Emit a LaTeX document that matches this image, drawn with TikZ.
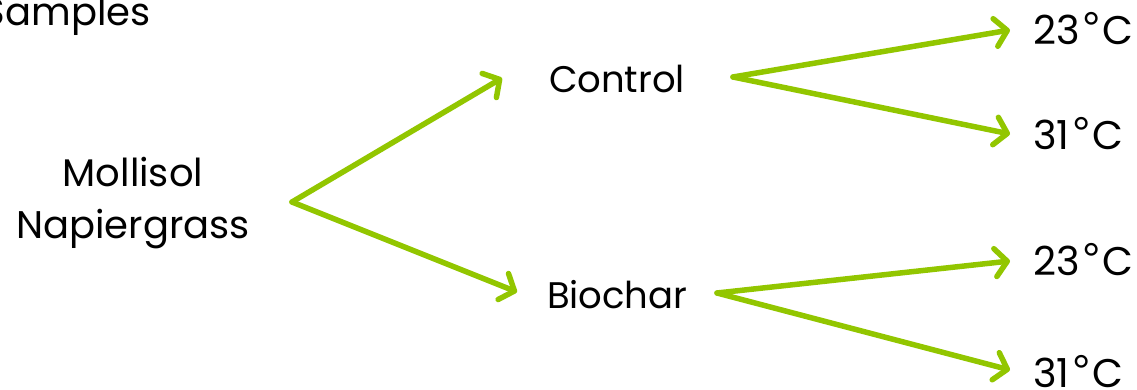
\documentclass[tikz,border=0pt]{standalone}
\usepackage{fontspec}
\setmainfont{Poppins}
\newfontfamily\degfont{Liberation Sans}
\usetikzlibrary{arrows.meta}
\definecolor{leaf}{RGB}{146,198,0}
\newcommand{\degC}{\kern3pt{\degfont\fontsize{46}{46}\selectfont°}\kern2pt C}
\begin{document}
\begin{tikzpicture}[x=1pt,y=-1pt,
  lbl/.style={inner sep=0pt, outer sep=0pt, anchor=base west, text=black},
  temp/.style={lbl, font=\fontsize{40}{40}\selectfont},
  treat/.style={lbl, font=\fontsize{37}{37}\selectfont},
  soil/.style={inner sep=0pt, outer sep=0pt, anchor=base, font=\fontsize{38.5}{38.5}\selectfont},
  link/.style={draw=leaf, line width=5.5pt, line cap=round, line join=round,
    -{Straight Barb[length=12pt,width=28pt,line cap=round,line join=round]}}]
\useasboundingbox (0,0) rectangle (1137,390);

% labels
\node[lbl, font=\fontsize{38.5}{38.5}\selectfont] (smp) at (-17,26) {Samples};
\node[soil] (mol) at (133,187) {Mollisol};
\node[soil] (nap) at (133,238) {Napiergrass};
\node[treat] (ctl) at (549,93) {Control};
\node[treat] (bio) at (547,308) {Biochar};
\node[temp] (ca) at (1033,45) {23\degC};
\node[temp] (cb) at (1033,150) {31\degC};
\node[temp] (ba) at (1033,275) {23\degC};
\node[temp] (bb) at (1033,387) {31\degC};

% fork points
\coordinate (fsoil) at (292,202);
\coordinate (fctl) at (733,77);
\coordinate (fbio) at (717,293);

% branches end just before each label, measured from its baseline
% (shifts are in page units: positive yshift moves up)
\draw[link] (fsoil) -- ([xshift=-47pt,yshift=15pt]ctl.base west);
\draw[link] (fsoil) -- ([xshift=-30pt,yshift=16pt]bio.base west);
\draw[link] (fctl) -- ([xshift=-23pt,yshift=15pt]ca.base west);
\draw[link] (fctl) -- ([xshift=-23pt,yshift=16pt]cb.base west);
\draw[link] (fbio) -- ([xshift=-23pt,yshift=14pt]ba.base west);
\draw[link] (fbio) -- ([xshift=-23pt,yshift=17pt]bb.base west);
\end{tikzpicture}
\end{document}
